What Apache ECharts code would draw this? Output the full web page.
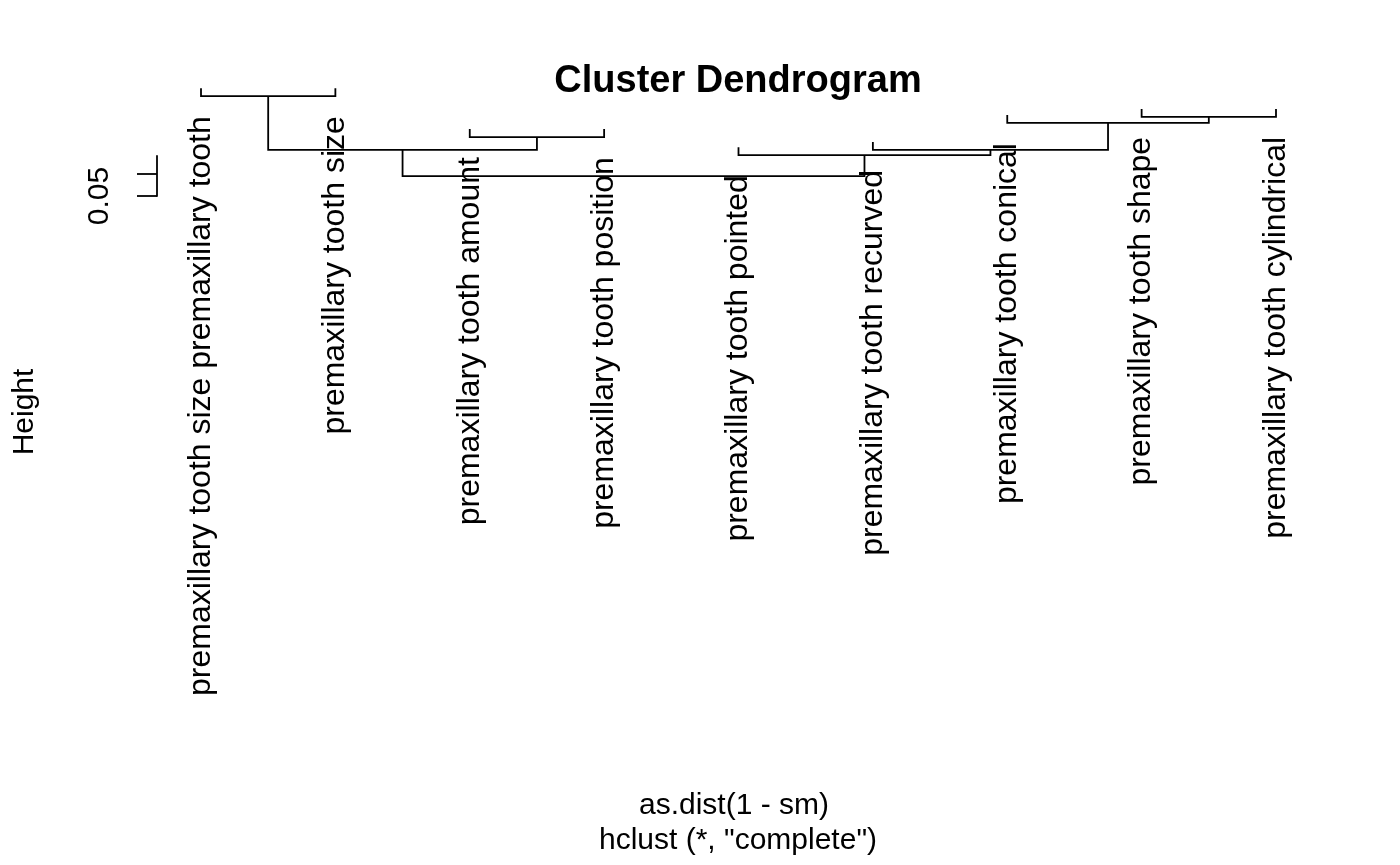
<!DOCTYPE html>
<html>
<head>
<meta charset="utf-8">
<script src="https://cdn.jsdelivr.net/npm/echarts@6/dist/echarts.min.js"></script>
<style>
  html, body { margin: 0; padding: 0; background: #fff; }
  #chart { width: 1400px; height: 865px; }
</style>
</head>
<body>
<div id="chart"></div>
<script>
// ---- data ----
const leafLabels = [
  "premaxillary tooth size premaxillary tooth",
  "premaxillary tooth size",
  "premaxillary tooth amount",
  "premaxillary tooth position",
  "premaxillary tooth pointed",
  "premaxillary tooth recurved",
  "premaxillary tooth conical",
  "premaxillary tooth shape",
  "premaxillary tooth cylindrical"
];
// R-style merge matrix (negative = leaf index, positive = earlier merge)
const mergeLeft   = [-1, -8, -7, -3, 1, -6, -5, 5];
const mergeRight  = [-2, -9,  2, -4, 4,  3,  6, 7];
const mergeHeight = [-0.177, -0.130, -0.116, -0.084, -0.055, -0.055, -0.043, 0.005];
const hang = 0.018;
const axisTickValues = [0, 0.05];
const axisLabelValues = [0.05];
const titleText = "Cluster Dendrogram";
const subText1 = "as.dist(1 - sm)";
const subText2 = 'hclust (*, "complete")';
const yName = "Height";

// ---- build segments ----
const FONT = "'Liberation Sans', Arial, Helvetica, sans-serif";
const mergeX = [];
const segData = [];
const leafData = [];
function childX(c) { return c < 0 ? -c : mergeX[c - 1]; }
for (let i = 0; i < mergeHeight.length; i++) {
  const l = mergeLeft[i], r = mergeRight[i], h = mergeHeight[i];
  const xl = childX(l), xr = childX(r);
  mergeX.push((xl + xr) / 2);
  const hl = l < 0 ? h - hang : mergeHeight[l - 1];
  const hr = r < 0 ? h - hang : mergeHeight[r - 1];
  segData.push([xl, xr, h, hl, hr]);
  if (l < 0) leafData.push([-l, h - hang]);
  if (r < 0) leafData.push([-r, h - hang]);
}

const chart = echarts.init(document.getElementById('chart'), null, { renderer: 'canvas' });
const LW = 1.8;
chart.setOption({
  backgroundColor: '#ffffff',
  animation: false,
  title: {
    text: titleText,
    left: 733, top: 58, textAlign: 'center',
    textStyle: { fontFamily: FONT, fontSize: 38, fontWeight: 'bold', color: '#000' }
  },
  grid: [
    { left: 158, width: 1161, top: 80, height: 120 },
    { left: 157, width: 10, top: 156, height: 40 }
  ],
  xAxis: [
    { type: 'value', gridIndex: 0, min: 0.68, max: 9.32, show: false },
    { type: 'value', gridIndex: 1, show: false }
  ],
  yAxis: [
    { type: 'value', gridIndex: 0, inverse: true, min: -94 / 440, max: 26 / 440, show: false },
    {
      type: 'value', gridIndex: 1, inverse: true, min: -18 / 440, max: 0.05,
      axisLine: { show: true, lineStyle: { color: '#000', width: LW } },
      splitLine: { show: false },
      axisTick: { show: true, length: 20, customValues: axisTickValues, lineStyle: { color: '#000', width: LW } },
      axisLabel: {
        show: true, customValues: axisLabelValues, rotate: 90, margin: 42,
        fontFamily: FONT, fontSize: 30, color: '#000',
        formatter: v => v.toFixed(2)
      }
    }
  ],
  series: [
    {
      type: 'custom', xAxisIndex: 0, yAxisIndex: 0, clip: false,
      data: segData,
      renderItem: function (params, api) {
        const xl = api.value(0), xr = api.value(1), h = api.value(2), hl = api.value(3), hr = api.value(4);
        const pts = [api.coord([xl, hl]), api.coord([xl, h]), api.coord([xr, h]), api.coord([xr, hr])];
        return { type: 'polyline', shape: { points: pts }, style: { stroke: '#000', lineWidth: LW, fill: null } };
      }
    },
    {
      type: 'custom', xAxisIndex: 0, yAxisIndex: 0, clip: false,
      data: leafData,
      renderItem: function (params, api) {
        const p = api.coord([api.value(0), api.value(1)]);
        return {
          type: 'text', x: p[0], y: p[1] + 28, rotation: Math.PI / 2,
          style: {
            text: leafLabels[api.value(0) - 1], fontFamily: FONT, fontSize: 32, fill: '#000',
            align: 'right', verticalAlign: 'middle'
          }
        };
      }
    }
  ],
  graphic: [
    { type: 'text', x: 25, y: 412, rotation: Math.PI / 2,
      style: { text: yName, fontFamily: FONT, fontSize: 30, fill: '#000', align: 'center', verticalAlign: 'middle' } },
    { type: 'text', x: 734, y: 806,
      style: { text: subText1, fontFamily: FONT, fontSize: 30, fill: '#000', align: 'center', verticalAlign: 'middle' } },
    { type: 'text', x: 738, y: 841,
      style: { text: subText2, fontFamily: FONT, fontSize: 30, fill: '#000', align: 'center', verticalAlign: 'middle' } }
  ]
});
</script>
</body>
</html>
